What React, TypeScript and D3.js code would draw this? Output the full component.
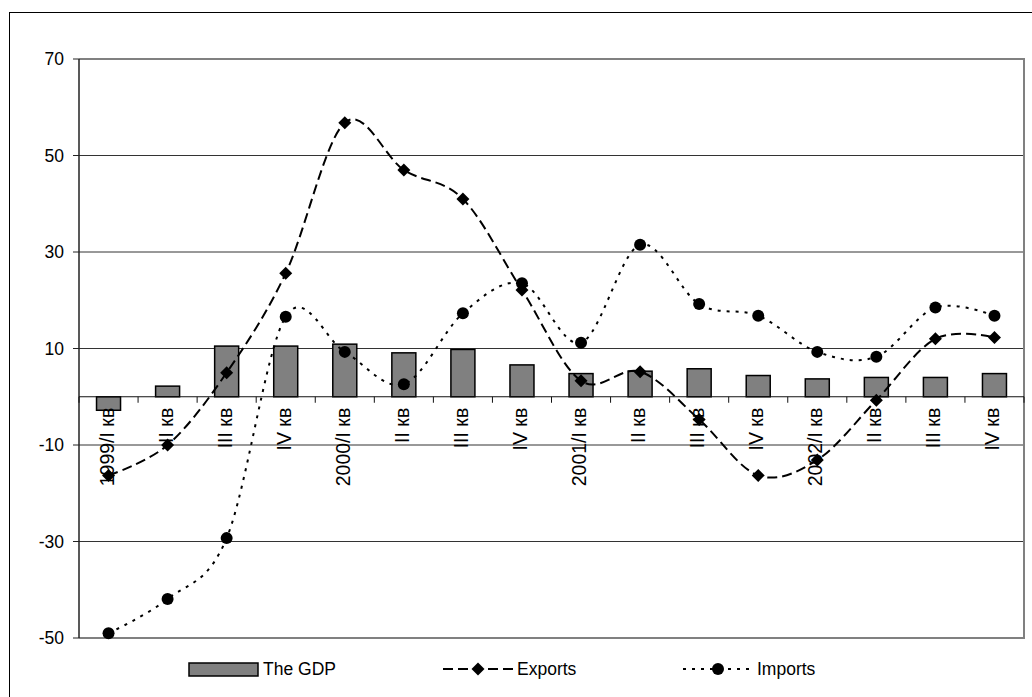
import React from "react";
import * as d3 from "d3";

const categories = [
  "1999/I кв", "II кв", "III кв", "IV кв",
  "2000/I кв", "II кв", "III кв", "IV кв",
  "2001/I кв", "II кв", "III кв", "IV кв",
  "2002/I кв", "II кв", "III кв", "IV кв",
];
const gdp = [-2.8, 2.2, 10.5, 10.5, 10.9, 9.1, 9.8, 6.6, 4.8, 5.3, 5.8, 4.4, 3.7, 4.0, 4.0, 4.8];
const exportsS = [-16.3, -10.0, 5.0, 25.6, 56.8, 47.0, 41.0, 22.1, 3.3, 5.2, -4.7, -16.3, -13.1, -0.7, 12.0, 12.3];
const importsS = [-49.0, -41.9, -29.3, 16.6, 9.3, 2.6, 17.3, 23.5, 11.2, 31.5, 19.2, 16.8, 9.3, 8.3, 18.5, 16.8];
const yTicks = [70, 50, 30, 10, -10, -30, -50];
const legendLabels = ["The GDP", "Exports", "Imports"];

const W = 1032;
const H = 697;
const plot = { left: 79, right: 1024, top: 59, bottom: 638 };
const FONT = "Liberation Sans, Arial, sans-serif";
const FS = 17.5;
const FS_CAT = 19.5;

export default function App() {
  const idx = categories.map((_, i) => i);
  const x = d3.scaleBand<number>().domain(idx).range([plot.left, plot.right]).padding(0);
  const y = d3.scaleLinear().domain([-50, 70]).range([plot.bottom, plot.top]);
  const bw = x.bandwidth();
  const barW = 24;
  const cx = (i: number) => (x(i) as number) + bw / 2;
  const y0 = y(0);

  const line = d3
    .line<number>()
    .x((_, i) => cx(i))
    .y((v) => y(v))
    .curve(d3.curveCardinal.tension(0));

  const diamond = (px: number, py: number, r = 6.5) =>
    `M${px},${py - r}L${px + r},${py}L${px},${py + r}L${px - r},${py}Z`;

  const ly = 669;

  return (
    <svg
      width={W}
      height={H}
      style={{ position: "absolute", left: 0, top: 0, background: "#fff" }}
      fontFamily={FONT}
    >
      <rect x={0} y={0} width={W} height={H} fill="#fff" />
      {/* outer chart border */}
      <rect x={9.5} y={12.5} width={W + 20} height={H + 20} fill="none" stroke="#000" strokeWidth={1} />

      {/* gridlines */}
      {yTicks.filter((t) => t !== 70 && t !== -50).map((t) => (
        <line key={"g" + t} x1={plot.left} x2={plot.right} y1={y(t)} y2={y(t)} stroke="#333" strokeWidth={1} />
      ))}
      {/* plot area border (top, right, bottom) */}
      <path
        d={`M${plot.left},${plot.top}H${plot.right}V${plot.bottom}H${plot.left}`}
        fill="none"
        stroke="#808080"
        strokeWidth={2}
      />

      {/* bars */}
      {gdp.map((v, i) => (
        <rect
          key={"b" + i}
          x={cx(i) - barW / 2}
          y={Math.min(y(v), y0)}
          width={barW}
          height={Math.abs(y(v) - y0)}
          fill="#808080"
          stroke="#000"
          strokeWidth={1.5}
        />
      ))}

      {/* value axis */}
      <line x1={plot.left} x2={plot.left} y1={plot.top} y2={plot.bottom} stroke="#222" strokeWidth={1.5} />
      {yTicks.map((t) => (
        <g key={"yt" + t}>
          <line x1={plot.left - 6} x2={plot.left} y1={y(t)} y2={y(t)} stroke="#222" strokeWidth={1} />
          <text x={64} y={y(t)} textAnchor="end" dominantBaseline="central" fontSize={FS} fill="#000">
            {t}
          </text>
        </g>
      ))}

      {/* category axis */}
      <line x1={plot.left} x2={plot.right} y1={y0} y2={y0} stroke="#111" strokeWidth={1} />
      {d3.range(categories.length + 1).map((i) => {
        const tx = plot.left + i * bw;
        return <line key={"ct" + i} x1={tx} x2={tx} y1={y0} y2={y0 + 6} stroke="#111" strokeWidth={1} />;
      })}
      {categories.map((c, i) => (
        <text
          key={"cl" + i}
          transform={`translate(${cx(i) - 2},${y0 + 11}) rotate(-90)`}
          textAnchor="end"
          dominantBaseline="central"
          fontSize={FS_CAT}
          fill="#000"
        >
          {c}
        </text>
      ))}

      {/* lines */}
      <path d={line(exportsS) || ""} fill="none" stroke="#000" strokeWidth={2} strokeDasharray="10,5" />
      <path d={line(importsS) || ""} fill="none" stroke="#000" strokeWidth={2} strokeDasharray="3,6" />
      {exportsS.map((v, i) => (
        <path key={"d" + i} d={diamond(cx(i), y(v))} fill="#000" />
      ))}
      {importsS.map((v, i) => (
        <circle key={"c" + i} cx={cx(i)} cy={y(v)} r={6} fill="#000" />
      ))}

      {/* legend */}
      <rect x={189} y={663} width={69} height={13} fill="#808080" stroke="#000" strokeWidth={1.5} />
      <text x={263} y={ly} dominantBaseline="central" fontSize={FS}>{legendLabels[0]}</text>

      <line x1={443} x2={513} y1={ly} y2={ly} stroke="#000" strokeWidth={2} strokeDasharray="10,5" />
      <path d={diamond(478, ly)} fill="#000" />
      <text x={517} y={ly} dominantBaseline="central" fontSize={FS}>{legendLabels[1]}</text>

      <line x1={683} x2={753} y1={ly} y2={ly} stroke="#000" strokeWidth={2} strokeDasharray="3,6" />
      <circle cx={718} cy={ly} r={6} fill="#000" />
      <text x={757} y={ly} dominantBaseline="central" fontSize={FS}>{legendLabels[2]}</text>
    </svg>
  );
}
